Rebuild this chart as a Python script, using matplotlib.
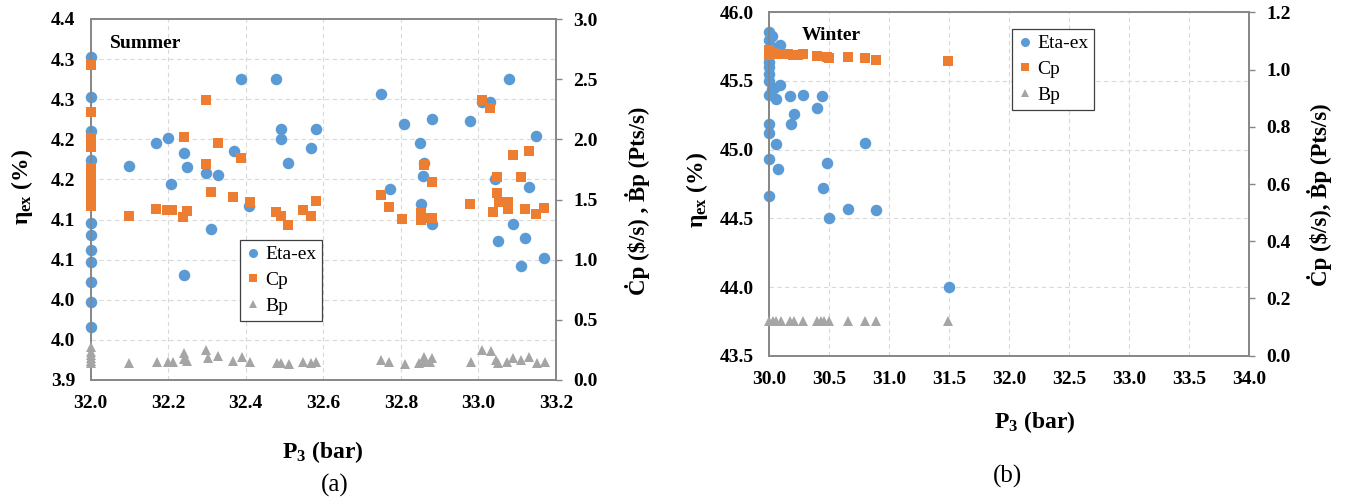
import matplotlib
matplotlib.use('Agg')
import matplotlib.pyplot as plt
from matplotlib.lines import Line2D
import numpy as np

plt.rcParams['font.family'] = ['Liberation Serif', 'DejaVu Serif']
plt.rcParams['mathtext.fontset'] = 'custom'
plt.rcParams['mathtext.rm'] = 'Liberation Serif'
plt.rcParams['mathtext.bf'] = 'Liberation Serif:bold'
plt.rcParams['mathtext.it'] = 'Liberation Serif:italic'

# ---------------- DATA ----------------
# Summer (a)
summer_eta_x = [32.0, 32.0, 32.0, 32.0, 32.0, 32.0, 32.0, 32.0, 32.0, 32.0, 32.0,
                32.098, 32.169, 32.199, 32.240, 32.250, 32.208, 32.240, 32.298, 32.329, 32.311,
                32.369, 32.388, 32.409, 32.478, 32.490, 32.490, 32.510, 32.568, 32.581, 32.749,
                32.771, 32.809, 32.849, 32.860, 32.858, 32.852, 32.880, 32.880, 32.979, 33.009,
                33.030, 33.079, 33.149, 33.043, 33.130, 33.089, 33.050, 33.120, 33.110, 33.170]
summer_eta = [4.303, 4.253, 4.210, 4.174, 4.096, 4.081, 4.062, 4.047, 4.022, 3.997, 3.966,
              4.167, 4.196, 4.202, 4.183, 4.166, 4.144, 4.031, 4.158, 4.156, 4.088,
              4.186, 4.275, 4.117, 4.275, 4.213, 4.200, 4.171, 4.189, 4.213, 4.257,
              4.138, 4.219, 4.196, 4.170, 4.154, 4.119, 4.225, 4.095, 4.223, 4.247,
              4.246, 4.275, 4.204, 4.150, 4.141, 4.095, 4.073, 4.077, 4.042, 4.052]

summer_cp_x = [32.0, 32.0, 32.0, 32.0, 32.0, 32.0, 32.0, 32.0, 32.0, 32.0, 32.0, 32.0, 32.0,
               32.099, 32.170, 32.196, 32.209, 32.239, 32.249, 32.241, 32.298, 32.298, 32.329,
               32.311, 32.368, 32.388, 32.410, 32.477, 32.490, 32.510, 32.549, 32.568, 32.581,
               32.748, 32.770, 32.804, 32.860, 32.880, 32.851, 32.851, 32.866, 32.880, 32.978,
               33.008, 33.030, 33.049, 33.049, 33.038, 33.052, 33.077, 33.077, 33.088, 33.109,
               33.130, 33.120, 33.149, 33.169]
summer_cp = [2.618, 2.225, 2.009, 1.939, 1.762, 1.720, 1.679, 1.637, 1.596, 1.554, 1.512, 1.471, 1.446,
             1.365, 1.418, 1.413, 1.413, 1.357, 1.404, 2.022, 2.327, 1.792, 1.967,
             1.560, 1.523, 1.842, 1.482, 1.399, 1.363, 1.288, 1.413, 1.363, 1.488,
             1.537, 1.440, 1.335, 1.784, 1.648, 1.385, 1.330, 1.344, 1.344, 1.460,
             2.327, 2.258, 1.690, 1.551, 1.399, 1.482, 1.482, 1.421, 1.867, 1.690,
             1.903, 1.421, 1.380, 1.429]

summer_bp_x = [32.0, 32.0, 32.0, 32.0, 32.0, 32.0,
               32.099, 32.171, 32.199, 32.212, 32.242, 32.242, 32.250, 32.298, 32.304, 32.329,
               32.368, 32.390, 32.411, 32.480, 32.490, 32.512, 32.549, 32.568, 32.581, 32.748,
               32.770, 32.810, 32.848, 32.861, 32.861, 32.875, 32.881, 32.980, 33.009, 33.032,
               33.045, 33.051, 33.073, 33.088, 33.109, 33.130, 33.150, 33.171]
summer_bp = [0.277, 0.233, 0.208, 0.183, 0.158, 0.141,
             0.139, 0.152, 0.152, 0.152, 0.222, 0.172, 0.158, 0.249, 0.180, 0.199,
             0.160, 0.194, 0.152, 0.139, 0.139, 0.133, 0.152, 0.144, 0.152, 0.166,
             0.152, 0.130, 0.139, 0.194, 0.150, 0.152, 0.180, 0.152, 0.249, 0.241,
             0.166, 0.139, 0.152, 0.180, 0.166, 0.194, 0.144, 0.152]

# Winter (b)
winter_eta_x = [30.00, 30.02, 30.00, 30.05, 30.09, 30.00, 30.00, 30.00, 30.09, 30.00, 30.02,
                30.04, 30.00, 30.06, 30.17, 30.28, 30.44, 30.40, 30.21, 30.18, 30.00, 30.00,
                30.06, 30.80, 30.48, 30.00, 30.07, 30.45, 30.00, 30.66, 30.89, 30.50, 31.50]
winter_eta = [45.86, 45.83, 45.80, 45.74, 45.76, 45.64, 45.60, 45.55, 45.47, 45.50, 45.44,
              45.45, 45.40, 45.37, 45.39, 45.40, 45.39, 45.30, 45.26, 45.19, 45.19, 45.12,
              45.04, 45.05, 44.90, 44.93, 44.86, 44.72, 44.66, 44.57, 44.56, 44.50, 44.00]

winter_cp_x = [30.00, 30.00, 30.00, 30.03, 30.06, 30.09, 30.12, 30.16, 30.20, 30.24, 30.28,
               30.40, 30.48, 30.50, 30.66, 30.80, 30.89, 31.49]
winter_cp = [1.070, 1.060, 1.050, 1.058, 1.056, 1.055, 1.054, 1.053, 1.052, 1.052, 1.055,
             1.047, 1.043, 1.040, 1.044, 1.041, 1.034, 1.031]

winter_bp_x = [30.00, 30.03, 30.06, 30.10, 30.17, 30.21, 30.28, 30.40, 30.43, 30.46, 30.50,
               30.66, 30.80, 30.89, 31.49]
winter_bp = [0.121, 0.121, 0.121, 0.121, 0.121, 0.121, 0.121, 0.121, 0.121, 0.121, 0.121,
             0.121, 0.121, 0.121, 0.121]

summer_xticks = [32.0, 32.2, 32.4, 32.6, 32.8, 33.0, 33.2]
summer_left_ticks = [3.90, 3.95, 4.00, 4.05, 4.10, 4.15, 4.20, 4.25, 4.30, 4.35]
summer_left_ticklabels = ['3.9', '4.0', '4.0', '4.1', '4.1', '4.2', '4.2', '4.3', '4.3', '4.4']
summer_right_ticks = [0.0, 0.5, 1.0, 1.5, 2.0, 2.5, 3.0]

winter_xticks = [30.0, 30.5, 31.0, 31.5, 32.0, 32.5, 33.0, 33.5, 34.0]
winter_left_ticks = [43.5, 44.0, 44.5, 45.0, 45.5, 46.0]
winter_right_ticks = [0.0, 0.2, 0.4, 0.6, 0.8, 1.0, 1.2]

series_names = ['Eta-ex', 'Cp', 'Bp']

# ---------------- STYLE ----------------
W, H = 1352, 499
BLUE = '#5B9BD5'
ORANGE = '#ED7D31'
GRAY = '#A5A5A5'
SPINE = '#868686'
GRID = '#D9D9D9'

fig = plt.figure(figsize=(W / 100, H / 100), dpi=100)


def px_rect(x0, y0, x1, y1):
    return [x0 / W, 1 - y1 / H, (x1 - x0) / W, (y1 - y0) / H]


def style_panel(ax, ax2, xticks, lticks, lticklabels, rticks, xfmt):
    ax.set_xticks(xticks)
    ax.set_xticklabels([xfmt % v for v in xticks])
    ax.set_xlim(xticks[0], xticks[-1])
    ax.set_yticks(lticks)
    ax.set_yticklabels(lticklabels)
    ax.set_ylim(lticks[0], lticks[-1])
    ax2.set_yticks(rticks)
    ax2.set_yticklabels(['%.1f' % v for v in rticks])
    ax2.set_ylim(rticks[0], rticks[-1])
    ax.grid(True, color=GRID, linestyle=(0, (4, 3)), linewidth=0.8)
    ax.set_axisbelow(True)
    for a in (ax, ax2):
        for s in a.spines.values():
            s.set_color(SPINE)
            s.set_linewidth(1.2)
    ax.tick_params(axis='x', length=0, pad=11, labelsize=14)
    ax.tick_params(axis='y', length=0, pad=11, labelsize=14)
    ax2.tick_params(axis='y', length=4.5, width=1.0, color=SPINE, direction='out',
                    pad=8, labelsize=14)
    for lab in ax.get_xticklabels() + ax.get_yticklabels() + ax2.get_yticklabels():
        lab.set_fontweight('bold')


def draw(ax, ax2, ex, ey, cx, cy, bx, by):
    ax.plot(ex, ey, linestyle='none', marker='o', markersize=8.3, color=BLUE,
            markeredgewidth=0, clip_on=False, zorder=3)
    ax2.plot(cx, cy, linestyle='none', marker='s', markersize=7.8, color=ORANGE,
             markeredgewidth=0, clip_on=False, zorder=3)
    ax2.plot(bx, by, linestyle='none', marker='^', markersize=7.8, color=GRAY,
             markeredgewidth=0, clip_on=False, zorder=4)


def add_legend(ax2, x, y):
    handles = [
        Line2D([], [], linestyle='none', marker='o', markersize=6.5, color=BLUE, markeredgewidth=0),
        Line2D([], [], linestyle='none', marker='s', markersize=6, color=ORANGE, markeredgewidth=0),
        Line2D([], [], linestyle='none', marker='^', markersize=6, color=GRAY, markeredgewidth=0),
    ]
    leg = ax2.legend(handles, series_names, loc='upper left',
                     bbox_to_anchor=(x / W, 1 - y / H), bbox_transform=fig.transFigure,
                     borderaxespad=0, frameon=True, fancybox=False, framealpha=1,
                     edgecolor='#404040', fontsize=14, handlelength=0.7,
                     handletextpad=0.3, borderpad=0.3, labelspacing=0.42)
    leg.get_frame().set_linewidth(0.9)


# Panel (a)
axa = fig.add_axes(px_rect(90.5, 19, 556, 380))
axa2 = axa.twinx()
style_panel(axa, axa2, summer_xticks, summer_left_ticks, summer_left_ticklabels,
            summer_right_ticks, '%.1f')
draw(axa, axa2, summer_eta_x, summer_eta, summer_cp_x, summer_cp, summer_bp_x, summer_bp)
add_legend(axa2, 240, 240)

# Panel (b)
axb = fig.add_axes(px_rect(769.3, 12.3, 1249, 355.7))
axb2 = axb.twinx()
style_panel(axb, axb2, winter_xticks, winter_left_ticks,
            ['%.1f' % v for v in winter_left_ticks], winter_right_ticks, '%.1f')
draw(axb, axb2, winter_eta_x, winter_eta, winter_cp_x, winter_cp, winter_bp_x, winter_bp)
add_legend(axb2, 1012, 29)


def ftext(x, y, s, **kw):
    fig.text(x / W, 1 - y / H, s, **kw)


ftext(110, 43, 'Summer', ha='left', va='center', fontsize=14, fontweight='bold')
ftext(801.7, 35, 'Winter', ha='left', va='center', fontsize=14, fontweight='bold')

ftext(322.5, 451.7, r'P$_{\mathbf{3}}$ (bar)', ha='center', va='center', fontsize=17, fontweight='bold')
ftext(1035, 421.7, r'P$_{\mathbf{3}}$ (bar)', ha='center', va='center', fontsize=17, fontweight='bold')

ftext(22, 187, r'η$_{\mathbf{ex}}$ (%)', ha='center', va='center', rotation=90,
      fontsize=17, fontweight='bold')
ftext(697, 190, r'η$_{\mathbf{ex}}$ (%)', ha='center', va='center', rotation=90,
      fontsize=17, fontweight='bold')

ftext(637, 201, 'Ċp (\\$/s) , Ḃp (Pts/s)', ha='center', va='center', rotation=90,
      fontsize=16.5, fontweight='bold')
ftext(1320, 195, 'Ċp (\\$/s), Ḃp (Pts/s)', ha='center', va='center', rotation=90,
      fontsize=16.5, fontweight='bold')

ftext(335, 485, '(a)', ha='center', va='center', fontsize=18)
ftext(1008, 476, '(b)', ha='center', va='center', fontsize=18)

fig.savefig('out.png', dpi=100)
